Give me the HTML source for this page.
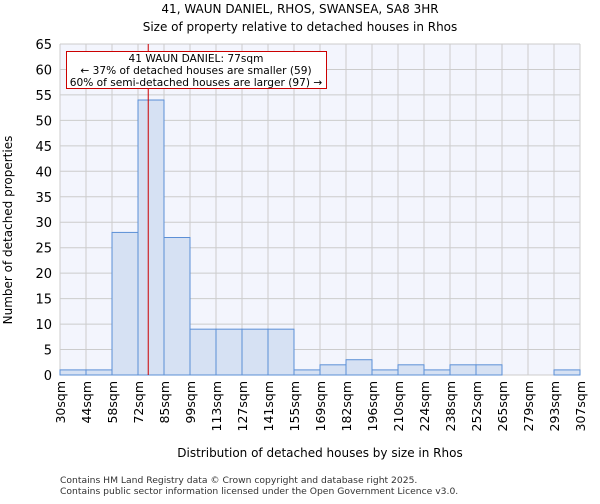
<!DOCTYPE html>
<html><head><meta charset="utf-8"><style>
body{margin:0;background:#fff;font-family:"DejaVu Sans","Liberation Sans",sans-serif;}
</style></head><body>
<svg id="c" width="600" height="500" xmlns="http://www.w3.org/2000/svg" font-family="DejaVu Sans, Liberation Sans, sans-serif">
<text x="300" y="13" text-anchor="middle" font-size="12">41, WAUN DANIEL, RHOS, SWANSEA, SA8 3HR</text>
<text x="300" y="31" text-anchor="middle" font-size="12">Size of property relative to detached houses in Rhos</text>
<rect x="60" y="44" width="520" height="331" fill="#f3f5fd"/>
<g id="grid"></g><g id="bars"></g><g id="ticks"></g>
<text transform="translate(12,230) rotate(-90)" text-anchor="middle" font-size="12">Number of detached properties</text>
<text x="320" y="457" text-anchor="middle" font-size="12">Distribution of detached houses by size in Rhos</text>
<text x="60" y="483" font-size="9.2" fill="#333">Contains HM Land Registry data © Crown copyright and database right 2025.</text>
<text x="60" y="494" font-size="9.2" fill="#333">Contains public sector information licensed under the Open Government Licence v3.0.</text>
</svg>
<script>
const binLabels=["30sqm","44sqm","58sqm","72sqm","85sqm","99sqm","113sqm","127sqm","141sqm","155sqm","169sqm","182sqm","196sqm","210sqm","224sqm","238sqm","252sqm","265sqm","279sqm","293sqm","307sqm"];
const binEdges=[30,44,58,72,85,99,113,127,141,155,169,182,196,210,224,238,252,265,279,293,307];
const counts=[1,1,28,54,27,9,9,9,9,1,2,3,1,2,1,2,2,0,0,1];
const yTicks=[0,5,10,15,20,25,30,35,40,45,50,55,60,65];
const markerValue=77;
const NS="http://www.w3.org/2000/svg";
const L=60,R=580,T=44,B=375,yMax=65;
const xi=i=>L+i*(R-L)/(binLabels.length-1);
const xv=v=>L+(v-binEdges[0])/(binEdges[binEdges.length-1]-binEdges[0])*(R-L);
const y=v=>B-v/yMax*(B-T);
function mk(t,a,p){const e=document.createElementNS(NS,t);for(const k in a)e.setAttribute(k,a[k]);p.appendChild(e);return e;}
const grid=document.getElementById('grid'),bars=document.getElementById('bars'),ticks=document.getElementById('ticks');
yTicks.forEach(v=>{
 const l=mk('line',{x1:L,x2:R,y1:y(v),y2:y(v),stroke:'#cccccc'},grid);
 
 
 const t=mk('text',{x:L-8,y:y(v)+5,'text-anchor':'end','font-size':13},ticks);t.textContent=v;
 
 
});
binLabels.forEach((s,i)=>{
 const l=mk('line',{x1:xi(i),x2:xi(i),y1:T,y2:B,stroke:'#cccccc'},grid);
 
 
 const t=mk('text',{transform:`translate(${xi(i)+5},381) rotate(-90)`,'text-anchor':'end','font-size':12.5},ticks);t.textContent=s;
 
 
});
counts.forEach((c,i)=>{
 if(c<=0)return;
 const r=mk('rect',{x:xi(i),y:y(c),width:xi(i+1)-xi(i),height:B-y(c),fill:'#d6e1f3',stroke:'#5b8fd6','stroke-width':1},bars);
 
 
});
const ml=mk('line',{x1:xv(markerValue),x2:xv(markerValue),y1:T,y2:B,stroke:'#cc0000','stroke-width':1},bars);


const box=mk('g',{},bars);


mk('rect',{x:66.5,y:51.5,width:260,height:37,fill:'#fff',stroke:'#cc0000'},box);
[["41 WAUN DANIEL: 77sqm",62],["← 37% of detached houses are smaller (59)",74],["60% of semi-detached houses are larger (97) →",86]].forEach(([s,yy])=>{
 const t=mk('text',{x:196,y:yy,'text-anchor':'middle','font-size':10.6},box);t.textContent=s;
 
 
});
</script>
</body></html>
